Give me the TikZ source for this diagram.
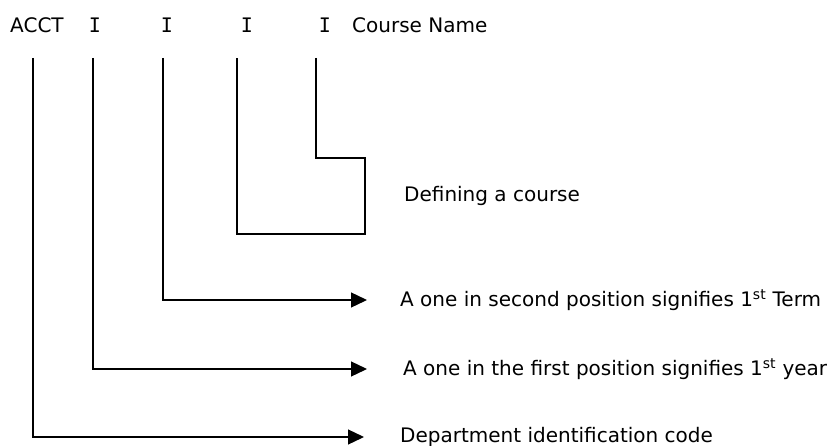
\documentclass[tikz,border=0pt]{standalone}
\usepackage{fontspec}
\setmainfont{DejaVu Sans}
\newfontfamily\digitfont{DejaVu Sans Mono}
\usepackage{tikz}
\usetikzlibrary{arrows.meta}
\usetikzlibrary{positioning}
\tikzset{code/.style={inner sep=0pt, anchor=base}}
\tikzset{digit/.style={code, font=\fontsize{20}{24}\digitfont}}
\tikzset{note/.style={inner sep=0pt}}
\tikzset{link/.style={draw=black, line width=1.3pt}}
\tikzset{pointer/.style={link, -{Triangle[length=16pt, width=15pt]}}}

\begin{document}
\begin{tikzpicture}[x=1pt, y=1pt, node distance={36pt}, font=\fontsize{20}{24}\selectfont]
		\useasboundingbox (0,0) rectangle (834,-446);

		% top row of the code
		\node[code, anchor=base west] (acct) at (10,-33) {ACCT};
		\node[digit] (first) at (95,-33) {I};
		\node[digit] (second) at (167,-33) {I};
		\node[digit] (third) at (247,-33) {I};
		\node[digit] (fourth) at (325,-33) {I};
		\node[code, anchor=base west] (cname) at (352,-33) {Course Name};

		% tops of the lines
		\coordinate (acctTop) at (33,-58);
		\coordinate (firstTop) at (93,-58);
		\coordinate (secondTop) at (163,-58);
		\coordinate (thirdTop) at (237,-58);
		\coordinate (fourthTop) at (316,-58);

		% box round the last two digits
		\coordinate (bend) at (365,-158);
		\coordinate (foot) at (365,-234);
		\coordinate (boxMid) at (365,-196);

		% arrow tips
		\coordinate (termTip) at (367,-300);
		\coordinate (yearTip) at (367,-369);
		\coordinate (deptTip) at (364,-437);

		\node[note] (define) [right=39pt of boxMid] {Defining a course};
		\node[note] (term) [right=33pt of termTip] {A one in second position signifies 1\textsuperscript{st} Term};
		\node[note] (year) [right of=yearTip, anchor=west] {A one in the first position signifies 1\textsuperscript{st} year};
		\node[note] (dept) [right of=deptTip, anchor=west] {Department identification code};

		\draw[link] (fourthTop) |- (bend) -- (foot) -| (thirdTop);
		\draw[pointer] (secondTop) |- (termTip);
		\draw[pointer] (firstTop) |- (yearTip);
		\draw[pointer] (acctTop) |- (deptTip);
	\end{tikzpicture}
\end{document}
